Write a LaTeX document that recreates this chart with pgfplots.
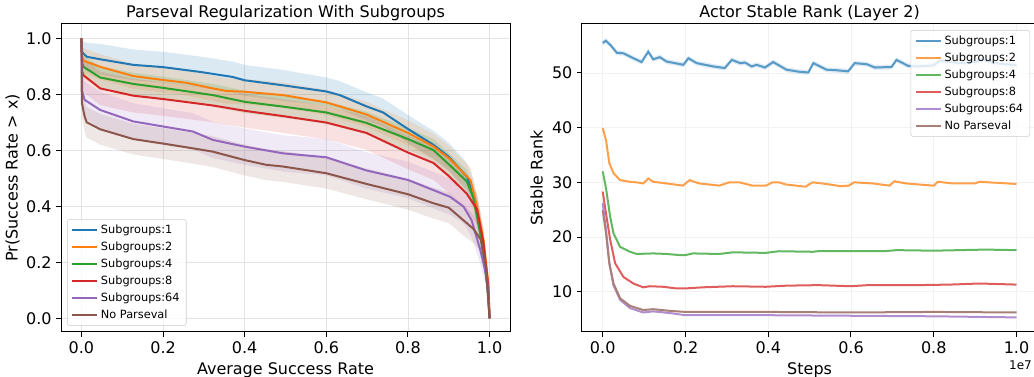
\documentclass[border=0pt]{standalone}
\usepackage{fontspec}
\setmainfont{DejaVu Sans}
\usepackage{pgfplots}
\usepackage{pgfplotstable}
\usepgfplotslibrary{fillbetween}
\pgfplotsset{compat=1.18}
\definecolor{tabblue}{HTML}{1F77B4}
\definecolor{taborange}{HTML}{FF7F0E}
\definecolor{tabgreen}{HTML}{2CA02C}
\definecolor{tabred}{HTML}{D62728}
\definecolor{tabpurple}{HTML}{9467BD}
\definecolor{tabbrown}{HTML}{8C564B}

% ---------- left panel: survival curves (x, y, band half-width e)
\pgfplotstableread{
x y e
0 1.0 0
0.002 0.95 0.04
0.013 0.934 0.05
0.046 0.925 0.055
0.127 0.905 0.055
0.2 0.897 0.055
0.29 0.88 0.055
0.37 0.862 0.055
0.40 0.85 0.055
0.494 0.832 0.055
0.6 0.81 0.05
0.633 0.797 0.05
0.698 0.757 0.05
0.739 0.735 0.05
0.8 0.676 0.05
0.862 0.62 0.05
0.9 0.577 0.05
0.944 0.506 0.05
0.96 0.447 0.05
0.977 0.33 0.045
0.989 0.185 0.04
0.997 0.08 0.03
1.0 0.0 0
}\tA
\pgfplotstableread{
x y e
0 1 0
0.002 0.935 0.04
0.005 0.92 0.045
0.046 0.898 0.045
0.127 0.865 0.045
0.2 0.851 0.045
0.257 0.841 0.045
0.322 0.821 0.045
0.355 0.812 0.045
0.40 0.809 0.045
0.494 0.797 0.045
0.6 0.771 0.045
0.698 0.728 0.045
0.8 0.662 0.045
0.862 0.614 0.045
0.9 0.572 0.045
0.953 0.494 0.045
0.969 0.40 0.045
0.985 0.28 0.04
0.997 0.125 0.03
1.0 0 0
}\tB
\pgfplotstableread{
x y e
0 1 0
0.002 0.91 0.04
0.005 0.898 0.04
0.046 0.86 0.04
0.127 0.837 0.04
0.2 0.823 0.04
0.322 0.797 0.04
0.4 0.773 0.04
0.494 0.756 0.04
0.6 0.735 0.04
0.698 0.698 0.04
0.8 0.64 0.04
0.862 0.601 0.04
0.9 0.55 0.04
0.944 0.489 0.04
0.96 0.43 0.04
0.977 0.304 0.04
0.994 0.125 0.03
1.0 0 0
}\tC
\pgfplotstableread{
x y e
0 1 0
0.002 0.88 0.05
0.005 0.868 0.06
0.046 0.821 0.06
0.127 0.795 0.06
0.2 0.783 0.06
0.322 0.76 0.06
0.4 0.741 0.06
0.494 0.722 0.06
0.6 0.699 0.06
0.698 0.662 0.06
0.8 0.592 0.06
0.862 0.555 0.06
0.9 0.508 0.06
0.944 0.445 0.06
0.969 0.39 0.055
0.985 0.27 0.05
0.997 0.11 0.03
1.0 0 0
}\tD
\pgfplotstableread{
x y e
0 1 0
0.002 0.81 0.06
0.008 0.78 0.065
0.046 0.744 0.065
0.127 0.703 0.065
0.2 0.685 0.065
0.273 0.667 0.065
0.322 0.637 0.065
0.4 0.613 0.065
0.494 0.589 0.065
0.6 0.575 0.065
0.698 0.528 0.065
0.8 0.494 0.065
0.862 0.458 0.065
0.903 0.434 0.065
0.936 0.399 0.06
0.956 0.35 0.06
0.977 0.245 0.05
0.994 0.14 0.04
1.0 0 0
}\tE
\pgfplotstableread{
x y e
0 1 0
0.001 0.77 0.05
0.008 0.72 0.055
0.013 0.70 0.055
0.046 0.675 0.055
0.127 0.64 0.055
0.2 0.624 0.055
0.29 0.603 0.055
0.322 0.595 0.055
0.4 0.565 0.055
0.453 0.548 0.055
0.494 0.542 0.055
0.6 0.518 0.055
0.698 0.48 0.055
0.8 0.443 0.055
0.862 0.411 0.055
0.9 0.395 0.055
0.936 0.35 0.055
0.96 0.32 0.05
0.979 0.28 0.045
0.991 0.184 0.04
1.0 0 0
}\tF

% ---------- right panel: stable rank (x in units of 1e7)
\pgfplotstableread{
x y
0 55.5
0.008 55.9
0.02 55.0
0.034 53.7
0.05 53.6
0.074 52.7
0.094 52.0
0.11 53.9
0.122 52.5
0.138 52.9
0.154 52.1
0.195 51.5
0.207 52.7
0.227 51.8
0.267 51.2
0.295 50.9
0.312 52.4
0.332 51.8
0.344 51.9
0.36 51.2
0.372 51.5
0.392 51.0
0.412 52.0
0.444 50.6
0.477 50.2
0.497 50.1
0.509 51.8
0.541 50.6
0.565 50.5
0.593 50.3
0.609 51.8
0.638 51.6
0.658 51.0
0.698 51.1
0.71 52.4
0.738 51.3
0.76 51.2
0.8 51.4
0.815 52.3
0.86 51.8
0.9 52.0
0.915 52.5
0.95 51.8
1.0 51.4
}\rA
\pgfplotstableread{
x y
0 39.9
0.008 37.7
0.016 33.5
0.026 31.7
0.042 30.4
0.066 30.1
0.082 30.0
0.098 29.8
0.11 30.7
0.122 30.1
0.154 29.8
0.194 29.4
0.21 30.4
0.233 29.8
0.282 29.4
0.306 30.0
0.33 30.0
0.362 29.4
0.394 29.4
0.41 30.0
0.426 30.0
0.443 29.6
0.49 29.2
0.507 30.0
0.54 29.7
0.575 29.3
0.595 29.4
0.607 30.0
0.653 29.8
0.693 29.4
0.705 30.2
0.733 29.8
0.765 29.6
0.8 29.4
0.81 30.1
0.846 29.8
0.9 29.8
0.91 30.1
1.0 29.7
}\rB
\pgfplotstableread{
x y
0 32.0
0.008 28.9
0.018 23.7
0.026 20.7
0.042 18.2
0.066 17.3
0.082 16.9
0.122 17.0
0.154 16.9
0.186 16.7
0.2 16.7
0.218 17.0
0.282 16.9
0.314 17.2
0.394 17.1
0.426 17.4
0.507 17.3
0.52 17.4
0.6 17.4
0.68 17.4
0.71 17.6
0.8 17.5
0.925 17.7
1.0 17.6
}\rC
\pgfplotstableread{
x y
0 28.3
0.008 24.3
0.018 19.5
0.03 15.2
0.05 12.7
0.074 11.5
0.098 10.8
0.114 11.0
0.146 10.9
0.178 10.6
0.2 10.6
0.242 10.8
0.314 11.0
0.394 10.9
0.443 11.1
0.52 11.2
0.6 11.0
0.64 11.2
0.76 11.2
0.84 11.3
0.91 11.5
1.0 11.3
}\rD
\pgfplotstableread{
x y
0 26.2
0.008 21.3
0.016 15.2
0.026 11.2
0.042 8.5
0.066 7.0
0.098 6.2
0.122 6.4
0.162 6.1
0.2 5.7
0.4 5.7
0.6 5.6
0.8 5.5
1.0 5.3
}\rE
\pgfplotstableread{
x y
0 24.9
0.008 20.7
0.016 15.2
0.026 11.5
0.042 8.8
0.066 7.4
0.098 6.65
0.122 6.8
0.162 6.5
0.2 6.3
0.4 6.3
0.6 6.2
0.8 6.3
1.0 6.2
}\rF

\pgfplotsset{
  panel/.style={
    scale only axis,
    clip=false,
    axis line style={line width=0.75pt},
    tick align=outside,
    tick pos=left,
    major tick length=3.5pt,
    every tick/.style={black, line width=0.75pt},
    grid=major,
    tick label style={font=\fontsize{12}{14}\selectfont},
    label style={font=\fontsize{12}{14}\selectfont},
    /pgf/number format/assume math mode=true,
    legend cell align=left,
    legend image code/.code={\draw[##1, line width=1.5pt] (0pt,0pt) -- (18.75pt,0pt);},
    legend style={draw=gray!40, rounded corners=2pt, fill=white, fill opacity=0.8, text opacity=1,
      font=\fontsize{8.5}{10}\selectfont, row sep=0.8pt, inner xsep=3pt, inner ysep=2pt},
  },
}

\begin{document}
\begin{tikzpicture}

\begin{axis}[panel,
  at={(45.75pt,33.75pt)}, anchor=south west,
  width=336.75pt, height=231pt,
  xmin=-0.05, xmax=1.05, ymin=-0.049, ymax=1.051,
  xtick={0,0.2,0.4,0.6,0.8,1}, xticklabels={0.0,0.2,0.4,0.6,0.8,1.0},
  ytick={0,0.2,0.4,0.6,0.8,1}, yticklabels={0.0,0.2,0.4,0.6,0.8,1.0},
  major grid style={color=gray!22, line width=0.6pt},
  xlabel={Average Success Rate},
  ylabel={Pr(Success Rate > x)},
  ylabel shift=-2pt,
  legend style={at={(0.0134,0.0195)}, anchor=south west},
]
% bands
\addplot[draw=none, forget plot, name path=uA] table[x=x, y expr=\thisrow{y}+\thisrow{e}] {\tA};
\addplot[draw=none, forget plot, name path=lA] table[x=x, y expr=\thisrow{y}-\thisrow{e}] {\tA};
\addplot[tabblue, fill opacity=0.16, draw=none, forget plot] fill between[of=uA and lA];
\addplot[draw=none, forget plot, name path=uB] table[x=x, y expr=\thisrow{y}+\thisrow{e}] {\tB};
\addplot[draw=none, forget plot, name path=lB] table[x=x, y expr=\thisrow{y}-\thisrow{e}] {\tB};
\addplot[taborange, fill opacity=0.16, draw=none, forget plot] fill between[of=uB and lB];
\addplot[draw=none, forget plot, name path=uC] table[x=x, y expr=\thisrow{y}+\thisrow{e}] {\tC};
\addplot[draw=none, forget plot, name path=lC] table[x=x, y expr=\thisrow{y}-\thisrow{e}] {\tC};
\addplot[tabgreen, fill opacity=0.16, draw=none, forget plot] fill between[of=uC and lC];
\addplot[draw=none, forget plot, name path=uD] table[x=x, y expr=\thisrow{y}+\thisrow{e}] {\tD};
\addplot[draw=none, forget plot, name path=lD] table[x=x, y expr=\thisrow{y}-\thisrow{e}] {\tD};
\addplot[tabred, fill opacity=0.14, draw=none, forget plot] fill between[of=uD and lD];
\addplot[draw=none, forget plot, name path=uE] table[x=x, y expr=\thisrow{y}+\thisrow{e}] {\tE};
\addplot[draw=none, forget plot, name path=lE] table[x=x, y expr=\thisrow{y}-\thisrow{e}] {\tE};
\addplot[tabpurple, fill opacity=0.14, draw=none, forget plot] fill between[of=uE and lE];
\addplot[draw=none, forget plot, name path=uF] table[x=x, y expr=\thisrow{y}+\thisrow{e}] {\tF};
\addplot[draw=none, forget plot, name path=lF] table[x=x, y expr=\thisrow{y}-\thisrow{e}] {\tF};
\addplot[tabbrown, fill opacity=0.14, draw=none, forget plot] fill between[of=uF and lF];
% lines
\addplot[tabblue, line width=1.5pt] table[x=x,y=y] {\tA}; \addlegendentry{Subgroups:1}
\addplot[taborange, line width=1.5pt] table[x=x,y=y] {\tB}; \addlegendentry{Subgroups:2}
\addplot[tabgreen, line width=1.5pt] table[x=x,y=y] {\tC}; \addlegendentry{Subgroups:4}
\addplot[tabred, line width=1.5pt] table[x=x,y=y] {\tD}; \addlegendentry{Subgroups:8}
\addplot[tabpurple, line width=1.5pt] table[x=x,y=y] {\tE}; \addlegendentry{Subgroups:64}
\addplot[tabbrown, line width=1.5pt] table[x=x,y=y] {\tF}; \addlegendentry{No Parseval}
\node[anchor=base, yshift=5pt, inner sep=0pt, font=\fontsize{12}{14}\selectfont] at (rel axis cs:0.5,1) {Parseval Regularization With Subgroups};
\end{axis}

\begin{axis}[panel,
  at={(436.3pt,33.75pt)}, anchor=south west,
  width=341.8pt, height=231pt,
  xmin=-0.0507, xmax=1.0507, ymin=2.63, ymax=58.96,
  xtick={0,0.2,0.4,0.6,0.8,1}, xticklabels={0.0,0.2,0.4,0.6,0.8,1.0},
  ytick={10,20,30,40,50},
  major grid style={color=gray!10, line width=0.6pt},
  xlabel={Steps},
  ylabel={Stable Rank},
  legend style={at={(0.9838,0.9805)}, anchor=north east},
]
\addplot[draw=none, forget plot, name path=ruA] table[x=x, y expr=\thisrow{y}+0.45] {\rA};
\addplot[draw=none, forget plot, name path=rlA] table[x=x, y expr=\thisrow{y}-0.45] {\rA};
\addplot[tabblue, fill opacity=0.15, draw=none, forget plot] fill between[of=ruA and rlA];
\addplot[tabblue!75!white, line width=1.5pt] table[x=x,y=y] {\rA}; \addlegendentry{Subgroups:1}
\addplot[taborange!75!white, line width=1.5pt] table[x=x,y=y] {\rB}; \addlegendentry{Subgroups:2}
\addplot[tabgreen!75!white, line width=1.5pt] table[x=x,y=y] {\rC}; \addlegendentry{Subgroups:4}
\addplot[tabred!75!white, line width=1.5pt] table[x=x,y=y] {\rD}; \addlegendentry{Subgroups:8}
\addplot[tabpurple!75!white, line width=1.5pt] table[x=x,y=y] {\rE}; \addlegendentry{Subgroups:64}
\addplot[tabbrown!75!white, line width=1.5pt] table[x=x,y=y] {\rF}; \addlegendentry{No Parseval}
\node[anchor=base, yshift=5pt, inner sep=0pt, font=\fontsize{12}{14}\selectfont] at (rel axis cs:0.5,1) {Actor Stable Rank (Layer 2)};
\node[anchor=north east, xshift=-4pt, yshift=-21pt, font=\fontsize{9}{10}\selectfont, inner sep=0pt] at (rel axis cs:1,0) {1e7};
\end{axis}

\pgfresetboundingbox
\path[use as bounding box] (0,0) rectangle (775.5pt,282.75pt);
\end{tikzpicture}
\end{document}
